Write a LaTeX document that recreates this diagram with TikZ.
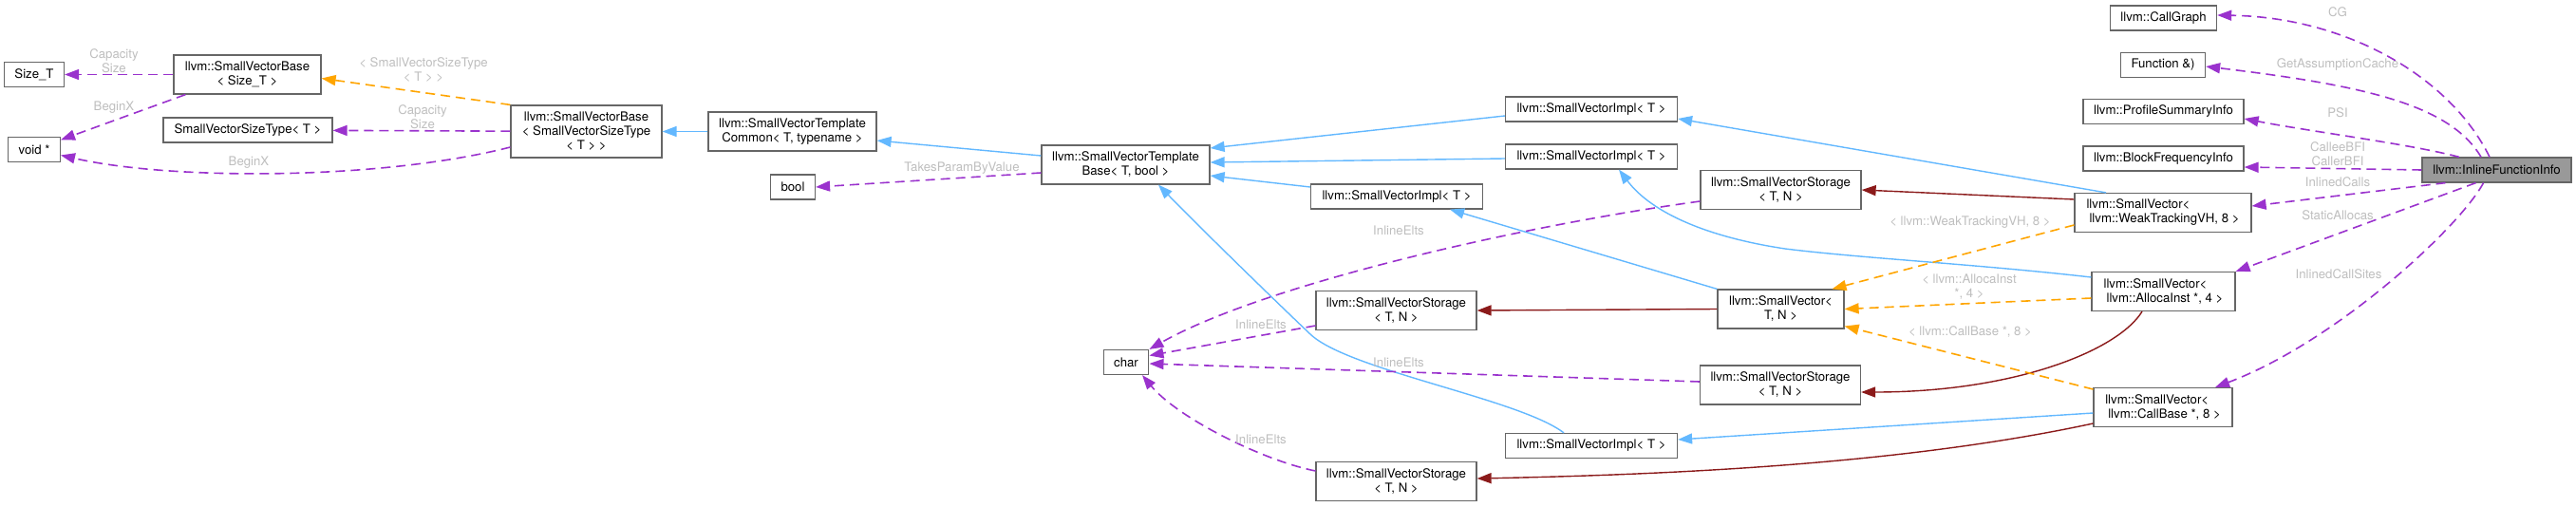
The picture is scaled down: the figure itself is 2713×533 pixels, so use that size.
\documentclass[tikz,border=0pt]{standalone}
\usepackage{fontspec}
\setmainfont{TeX Gyre Heros}
\usepackage{tikz}
\usetikzlibrary{arrows.meta, positioning, calc}
\definecolor{clsline}{HTML}{666666}
\definecolor{clsmainfill}{HTML}{999999}
\definecolor{useline}{HTML}{9A32CD}
\definecolor{tmplline}{HTML}{FFA500}
\definecolor{publine}{HTML}{63B8FF}
\definecolor{privline}{HTML}{8B1A1A}
\definecolor{lblgrey}{HTML}{BEBEBE}
\tikzset{
  clsbox/.style   = {font=\fontsize{13.2}{15}\selectfont, align=center, draw=clsline,
                     fill=white, line width=1.2pt, minimum height=26pt,
                     inner xsep=11pt, inner ysep=2pt},
  clsbox2/.style  = {clsbox, minimum height=41pt},
  clsbox3/.style  = {clsbox, minimum height=55pt},
  clsmain/.style  = {clsbox, fill=clsmainfill},
  edgelbl/.style  = {font=\fontsize{13.2}{15}\selectfont, align=center, text=lblgrey, inner sep=0pt},
  usesedge/.style = {-{Triangle[length=15pt, width=11pt]}, line width=1.6pt, draw=useline,
                     dash pattern=on 10pt off 6pt},
  tmpledge/.style = {usesedge, draw=tmplline},
  pubedge/.style  = {-{Triangle[length=15pt, width=11pt]}, line width=1.4pt, draw=publine},
  privedge/.style = {pubedge, draw=privline},
}

\begin{document}
\begin{tikzpicture}[x=1pt, y=-1pt]
  \useasboundingbox (0,0) rectangle (2713,533);

  \node[clsbox, minimum width=62pt] (sizet) at (36,78.5) {Size\_T};
  \node[clsbox, minimum width=54pt] (voidp) at (36,157.5) {void *};
  \node[clsbox2, minimum width=155pt] (base1) at (260.5,78.5) {llvm::SmallVectorBase\\< Size\_T >};
  \node[clsbox, minimum width=178pt] (svst) at (261,137) {SmallVectorSizeType< T >};
  \node[clsbox3, minimum width=159pt] (base2) at (617.5,138.5) {llvm::SmallVectorBase\\< SmallVectorSizeType\\< T > >};
  \node[clsbox2, minimum width=177pt] (tcommon) at (834.5,138.5) {llvm::SmallVectorTemplate\\Common< T, typename >};
  \node[clsbox, minimum width=45pt] (boolt) at (835,197) {bool};
  \node[clsbox2, minimum width=177pt] (tbase) at (1185.5,173.5) {llvm::SmallVectorTemplate\\Base< T, bool >};
  \node[clsbox, minimum width=47pt] (chart) at (1186,381.5) {char};

  \node[clsbox, minimum width=181pt] (imp1) at (1676,115) {llvm::SmallVectorImpl< T >};
  \node[clsbox, minimum width=181pt] (imp2) at (1676,165) {llvm::SmallVectorImpl< T >};
  \node[clsbox, minimum width=181pt] (imp3) at (1471,207) {llvm::SmallVectorImpl< T >};
  \node[clsbox, minimum width=181pt] (imp4) at (1676,469.5) {llvm::SmallVectorImpl< T >};
  \node[clsbox2, minimum width=169pt] (sst1) at (1875.5,200) {llvm::SmallVectorStorage\\< T, N >};
  \node[clsbox2, minimum width=169pt] (sst2) at (1470.5,327) {llvm::SmallVectorStorage\\< T, N >};
  \node[clsbox2, minimum width=169pt] (sst3) at (1875,405.5) {llvm::SmallVectorStorage\\< T, N >};
  \node[clsbox2, minimum width=169pt] (sst4) at (1470.5,507) {llvm::SmallVectorStorage\\< T, N >};
  \node[clsbox2, minimum width=133pt] (svtn) at (1875.5,325.5) {llvm::SmallVector<\\T, N >};

  \node[clsbox, minimum width=111pt] (cg) at (2278.5,19) {llvm::CallGraph};
  \node[clsbox, minimum width=88pt] (fnref) at (2278,68.5) {Function \&)};
  \node[clsbox, minimum width=169pt] (psi) at (2278.5,117.5) {llvm::ProfileSummaryInfo};
  \node[clsbox, minimum width=169pt] (bfi) at (2278.5,167) {llvm::BlockFrequencyInfo};
  \node[clsbox2, align=left, minimum width=186pt] (svwt) at (2278,224) {llvm::SmallVector<\\\hspace*{3pt}llvm::WeakTrackingVH, 8 >};
  \node[clsbox2, align=left, minimum width=151pt] (svai) at (2278.5,307) {llvm::SmallVector<\\\hspace*{3pt}llvm::AllocaInst *, 4 >};
  \node[clsbox2, align=left, minimum width=146pt] (svcb) at (2278,429) {llvm::SmallVector<\\\hspace*{3pt}llvm::CallBase *, 8 >};
  \node[clsmain, minimum width=157pt] (ifi) at (2629.5,179) {llvm::InlineFunctionInfo};

  \draw[usesedge] (base1.west) -- (sizet.east);
  \draw[usesedge] ([xshift=13pt]base1.south west) -- (voidp.20);
  \draw[usesedge] (base2) -- (svst);
  \draw[usesedge] ([yshift=-16.5pt]base2.west) .. controls (400,190) and (180,190) .. (voidp.-12);
  \draw[tmpledge] (base2.north west) -- ([yshift=-4pt]base1.east);
  \draw[pubedge] (tcommon) -- (base2);
  \draw[pubedge] ([yshift=9.5pt]tbase.west) -- ([yshift=-9.5pt]tcommon.east);
  \draw[usesedge] ([yshift=-8.5pt]tbase.west) -- (boolt.east);

  \draw[pubedge] ([yshift=-7pt]imp1.west) -- ([yshift=17.5pt]tbase.east);
  \draw[pubedge] ([yshift=-2pt]imp2.west) -- ([yshift=2.5pt]tbase.east);
  \draw[pubedge] ([yshift=10pt]imp3.west) -- ([yshift=-11.5pt]tbase.east);
  \draw[pubedge] ([xshift=-29pt]imp4.north) .. controls (1600,420) and (1420,390) .. (1380,352)
                 .. controls (1340,314) and (1260,236) .. ([xshift=34.5pt]tbase.south);
  \draw[pubedge] ([xshift=-60pt]svwt.north) -- ([yshift=-10pt]imp1.east);
  \draw[pubedge] ([yshift=15pt]svai.west) .. controls (2080,278) and (1960,272) .. (1880,262)
                 .. controls (1800,250) and (1740,225) .. ([xshift=29pt]imp2.south);
  \draw[pubedge] (svtn.north west) -- ([xshift=56pt]imp3.south);
  \draw[pubedge] ([yshift=-6pt]svcb.west) -- ([yshift=6.5pt]imp4.east);

  \draw[privedge] ([yshift=14pt]svwt.west) -- (sst1.east);
  \draw[privedge] (svtn.west) -- (sst2.east);
  \draw[privedge] ([xshift=-22.5pt]svai.south) .. controls (2230,370) and (2120,413) .. ([yshift=-7.5pt]sst3.east);
  \draw[privedge] ([yshift=-17pt]svcb.west) .. controls (2000,490) and (1750,500) .. ([yshift=3pt]sst4.east);

  \draw[tmpledge] ([yshift=-13pt]svwt.west) -- ([xshift=54pt]svtn.north);
  \draw[tmpledge] ([yshift=-7pt]svai.west) -- (svtn.east);
  \draw[tmpledge] ([yshift=19pt]svcb.west) -- ([yshift=-18pt]svtn.east);

  \draw[usesedge] ([yshift=-12pt]sst1.west) .. controls (1600,238) and (1330,300) .. (chart.north east);
  \draw[usesedge] ([yshift=-16pt]sst2.west) -- ([yshift=7pt]chart.east);
  \draw[usesedge] ([yshift=3.5pt]sst3.west) -- ([yshift=-1.5pt]chart.east);
  \draw[usesedge] ([yshift=11pt]sst4.west) .. controls (1330,485) and (1240,440) .. ([xshift=17pt]chart.south);

  \draw[usesedge] ([xshift=-7.5pt]ifi.north) .. controls (2580,80) and (2470,18) .. ([yshift=3pt]cg.east);
  \draw[usesedge] ([xshift=-16.5pt]ifi.north) .. controls (2580,110) and (2490,90) .. ([yshift=-1.5pt]fnref.east);
  \draw[usesedge] ([xshift=-39.5pt]ifi.north) .. controls (2540,152) and (2430,138) .. ([yshift=-7.5pt]psi.east);
  \draw[usesedge] (ifi.west) -- ([yshift=-9pt]bfi.east);
  \draw[usesedge] ([xshift=-54pt]ifi.south) -- ([yshift=7pt]svwt.east);
  \draw[usesedge] ([xshift=-22pt]ifi.south) -- (svai.north east);
  \draw[usesedge] ([xshift=-14pt]ifi.south) .. controls (2590,240) and (2460,360) .. ([xshift=55pt]svcb.north);

  \node[edgelbl] (lcap1) at (120,64) {Capacity\\Size};
  \node[edgelbl] (lbx1) at (120,113) {BeginX};
  \node[edgelbl] (lsvst) at (446,74) {< SmallVectorSizeType\\< T > >};
  \node[edgelbl] (lcap2) at (445,123) {Capacity\\Size};
  \node[edgelbl] (lbx2) at (262,171) {BeginX};
  \node[edgelbl] (ltpv) at (1013,177) {TakesParamByValue};
  \node[edgelbl] (lie1) at (1473,243) {InlineElts};
  \node[edgelbl] (lie2) at (1328,342) {InlineElts};
  \node[edgelbl] (lie3) at (1473,382) {InlineElts};
  \node[edgelbl] (lie4) at (1328,463) {InlineElts};
  \node[edgelbl] (lwt) at (2075,234) {< llvm::WeakTrackingVH, 8 >};
  \node[edgelbl] (lai) at (2074,302) {< llvm::AllocaInst\\*, 4 >};
  \node[edgelbl] (lcb) at (2075,350) {< llvm::CallBase *, 8 >};
  \node[edgelbl] (lcg) at (2462,13) {CG};
  \node[edgelbl] (lgac) at (2462,68) {GetAssumptionCache};
  \node[edgelbl] (lpsi) at (2462,119) {PSI};
  \node[edgelbl] (lbfi) at (2462,162) {CalleeBFI\\CallerBFI};
  \node[edgelbl] (lic) at (2462,192) {InlinedCalls};
  \node[edgelbl] (lsa) at (2462,227) {StaticAllocas};
  \node[edgelbl] (lics) at (2463,289) {InlinedCallSites};
\end{tikzpicture}
\end{document}
